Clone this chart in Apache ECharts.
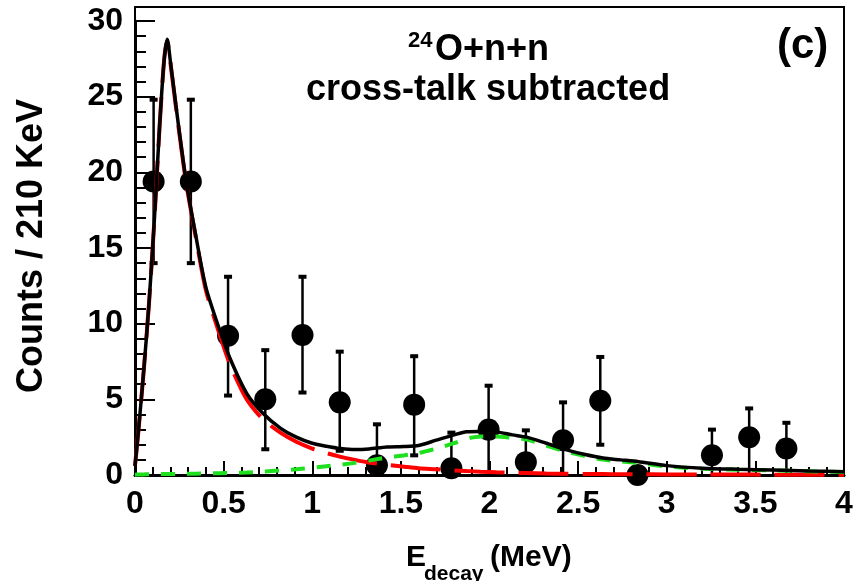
<!DOCTYPE html>
<html>
<head>
<meta charset="utf-8">
<script src="https://cdn.jsdelivr.net/npm/echarts@6/dist/echarts.min.js"></script>
<style>
html,body{margin:0;padding:0;background:#fff;}
#main{width:865px;height:581px;}
</style>
</head>
<body>
<div id="main"></div>
<script>
// ---- data ----
const binCenters = [0.105, 0.315, 0.525, 0.735, 0.945, 1.155, 1.365, 1.575, 1.785, 1.995, 2.205, 2.415, 2.625, 2.835, 3.255, 3.465, 3.675];
const counts     = [19.4, 19.4, 9.2, 5.0, 9.25, 4.8, 0.65, 4.65, 0.45, 3.0, 0.85, 2.3, 4.9, 0.0, 1.3, 2.5, 1.75];
const errHigh    = [24.8, 24.8, 13.1, 8.25, 13.1, 8.15, 3.35, 7.85, 2.8, 5.9, 2.95, 4.8, 7.8, 0.0, 3.0, 4.4, 3.45];
const errLow     = [14.0, 14.0, 5.25, 1.7, 5.45, 1.6, -2.0, 1.3, -1.9, -0.3, -1.2, -0.3, 2.0, 0.0, -0.1, -0.3, -0.1];

const curveX = [0, 0.02, 0.05, 0.08, 0.11, 0.14, 0.165, 0.182, 0.2, 0.23, 0.26, 0.29, 0.34, 0.4, 0.48, 0.54, 0.63, 0.72, 0.82, 0.91, 1.0, 1.08, 1.16, 1.24, 1.32, 1.42, 1.52, 1.6, 1.7, 1.8, 1.87, 1.95, 2.04, 2.13, 2.21, 2.32, 2.43, 2.54, 2.64, 2.74, 2.84, 3.0, 3.2, 3.4, 3.6, 3.8, 4.0];
const totalFit = [0.6, 3.0, 7.0, 11.5, 17.0, 23.3, 27.5, 28.8, 27.3, 24.5, 21.8, 19.3, 16.0, 12.4, 9.5, 7.6, 5.4, 4.1, 3.1, 2.5, 2.1, 1.9, 1.75, 1.68, 1.72, 1.85, 1.88, 1.95, 2.3, 2.65, 2.86, 2.88, 2.85, 2.65, 2.5, 2.1, 1.68, 1.35, 1.12, 1.0, 0.88, 0.62, 0.45, 0.38, 0.33, 0.27, 0.22];
const lowFit   = [0.6, 3.0, 7.0, 11.5, 17.0, 23.3, 27.5, 28.7, 27.2, 24.4, 21.7, 19.2, 15.9, 12.2, 9.2, 7.2, 5.0, 3.7, 2.8, 2.2, 1.75, 1.45, 1.2, 1.0, 0.82, 0.68, 0.55, 0.45, 0.38, 0.3, 0.26, 0.22, 0.18, 0.15, 0.13, 0.1, 0.08, 0.07, 0.06, 0.05, 0.05, 0.04, 0.03, 0.03, 0.02, 0.02, 0.02];
const highFit  = [0.02, 0.03, 0.04, 0.05, 0.05, 0.06, 0.06, 0.06, 0.07, 0.07, 0.08, 0.08, 0.09, 0.1, 0.12, 0.14, 0.17, 0.22, 0.3, 0.38, 0.48, 0.58, 0.68, 0.8, 0.95, 1.15, 1.3, 1.45, 1.75, 2.1, 2.4, 2.55, 2.55, 2.45, 2.35, 1.95, 1.55, 1.25, 1.02, 0.9, 0.8, 0.56, 0.42, 0.35, 0.3, 0.25, 0.2];

const xTickLabels = ['0', '0.5', '1', '1.5', '2', '2.5', '3', '3.5', '4'];
const yTickLabels = ['0', '5', '10', '15', '20', '25', '30'];

const FONT = '"Liberation Sans", Arial, Helvetica, sans-serif';

const pts = binCenters.map((x, i) => [x, counts[i]]);
const errs = binCenters.map((x, i) => [x, errLow[i], errHigh[i]]);
const zipXY = (ys) => curveX.map((x, i) => [x, ys[i]]);

const chart = echarts.init(document.getElementById('main'), null, {renderer: 'canvas'});

const option = {
  animation: false,
  backgroundColor: '#fff',
  grid: [
    {left: 135, right: 21, top: 21, bottom: 106, show: false},
    {left: 135, right: 21, top: 7, bottom: 106, show: true, borderColor: '#000', borderWidth: 2, backgroundColor: 'transparent', z: 0}
  ],
  xAxis: [{
    type: 'value', min: 0, max: 4, interval: 0.5, gridIndex: 0,
    axisLine: {show: true, onZero: false, lineStyle: {color: '#000', width: 3}},
    axisTick: {show: true, inside: true, length: 14, lineStyle: {color: '#000', width: 2}},
    minorTick: {show: true, splitNumber: 5, length: 8, lineStyle: {color: '#000', width: 2}},
    splitLine: {show: false},
    axisLabel: {color: '#000', fontSize: 32, fontWeight: 'bold', fontFamily: FONT, margin: 13,
      formatter: (v) => { const i = Math.round(v / 0.5); return xTickLabels[i] !== undefined ? xTickLabels[i] : ''; }}
  }, {
    type: 'value', gridIndex: 1, show: false, min: 0, max: 1
  }],
  yAxis: [{
    type: 'value', min: 0, max: 30, interval: 5, gridIndex: 0,
    axisLine: {show: true, onZero: false, lineStyle: {color: '#000', width: 3}},
    axisTick: {show: true, inside: true, length: 20, lineStyle: {color: '#000', width: 2}},
    minorTick: {show: true, splitNumber: 5, length: 11, lineStyle: {color: '#000', width: 2}},
    splitLine: {show: false},
    axisLabel: {color: '#000', fontSize: 32, fontWeight: 'bold', fontFamily: FONT, margin: 12,
      formatter: (v) => { const i = Math.round(v / 5); return yTickLabels[i] !== undefined ? yTickLabels[i] : ''; }}
  }, {
    type: 'value', gridIndex: 1, show: false, min: 0, max: 1
  }],
  series: [
    {
      type: 'custom', name: 'errors', clip: true, z: 3,
      data: errs,
      renderItem: function (params, api) {
        const x = api.value(0), lo = api.value(1), hi = api.value(2);
        if (hi === lo) return {type: 'group', children: []};
        const pl = api.coord([x, lo]);
        const ph = api.coord([x, hi]);
        return {type: 'group', children: [
          {type: 'line', shape: {x1: pl[0], y1: pl[1], x2: ph[0], y2: ph[1]}, style: {stroke: '#000', lineWidth: 2.5}},
          {type: 'rect', shape: {x: ph[0] - 4, y: ph[1] - 2, width: 8, height: 4}, style: {fill: '#000'}},
          {type: 'rect', shape: {x: pl[0] - 4, y: pl[1] - 2, width: 8, height: 4}, style: {fill: '#000'}}
        ]};
      }
    },
    {
      type: 'scatter', name: 'data', data: pts, symbol: 'circle', symbolSize: 22, clip: false, z: 3,
      itemStyle: {color: '#000', opacity: 1}
    },
    {
      type: 'line', name: 'low', data: zipXY(lowFit), showSymbol: false, smooth: 0.25, z: 4,
      lineStyle: {color: '#ff0000', width: 4, type: [50, 14]}
    },
    {
      type: 'line', name: 'high', data: zipXY(highFit), showSymbol: false, smooth: 0.25, z: 4,
      lineStyle: {color: '#1ee01e', width: 4, type: [14, 12]}
    },
    {
      type: 'line', name: 'total', data: zipXY(totalFit), showSymbol: false, smooth: 0.25, z: 5,
      lineStyle: {color: '#000', width: 3.5}
    }
  ],
  graphic: [
    {type: 'text', left: 408, top: 30, style: {text: '24', font: 'bold 22px ' + FONT, fill: '#000'}},
    {type: 'text', left: 435, top: 32, style: {text: 'O+n+n', font: 'bold 36px ' + FONT, fill: '#000'}},
    {type: 'text', left: 306, top: 72, style: {text: 'cross-talk subtracted', font: 'bold 36px ' + FONT, fill: '#000'}},
    {type: 'text', left: 777, top: 25, style: {text: '(c)', font: 'bold 42px ' + FONT, fill: '#000'}},
    {type: 'text', x: 32, y: 246, rotation: Math.PI / 2,
      style: {text: 'Counts / 210 KeV', font: 'bold 36px ' + FONT, fill: '#000', align: 'center', verticalAlign: 'middle'}},
    {type: 'text', left: 406, top: 543, style: {text: 'E', font: 'bold 30px ' + FONT, fill: '#000'}},
    {type: 'text', left: 424, top: 564, style: {text: 'decay', font: 'bold 21px ' + FONT, fill: '#000'}},
    {type: 'text', left: 490, top: 543, style: {text: '(MeV)', font: 'bold 30px ' + FONT, fill: '#000'}}
  ]
};
chart.setOption(option);
</script>
</body>
</html>
